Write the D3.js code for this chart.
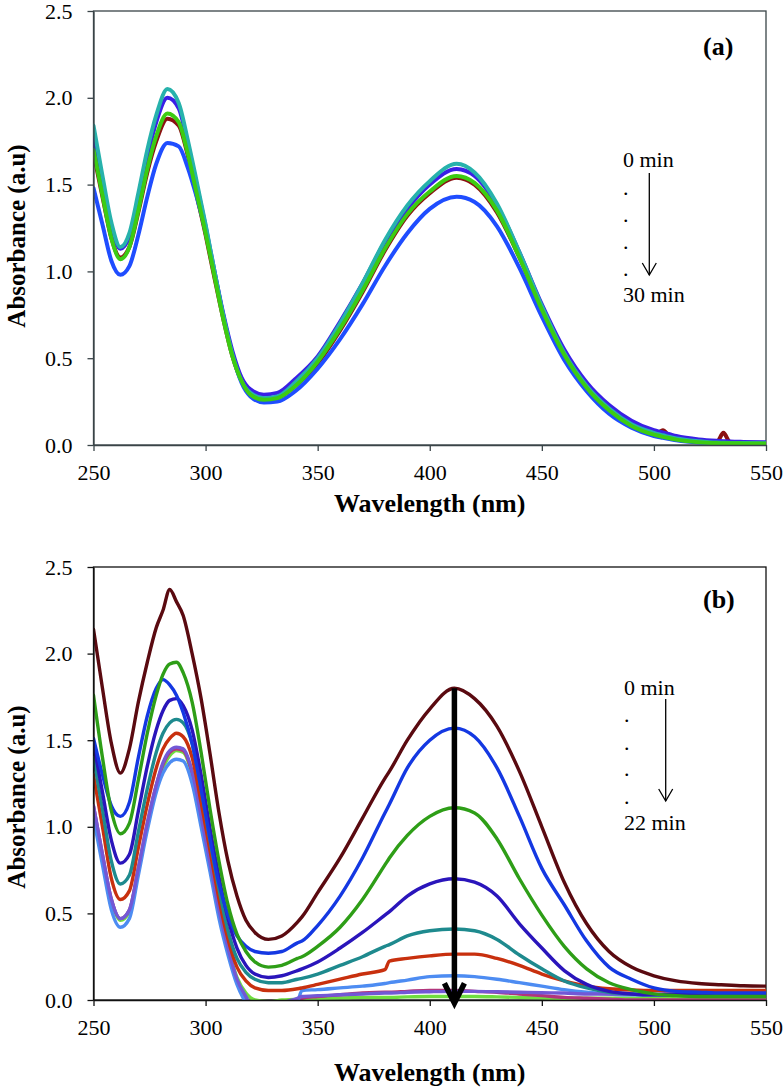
<!DOCTYPE html>
<html>
<head>
<meta charset="utf-8">
<script src="https://cdn.jsdelivr.net/npm/d3@7"></script>
<style>
html,body{margin:0;padding:0;background:#fff;}
svg{display:block;}
svg text{font-family:"Liberation Serif","Tinos","Times New Roman",Times,"DejaVu Serif","Noto Serif",serif !important;}
</style>
</head>
<body>
<svg id="chart" width="784" height="1090"></svg>
<script>
// ---------------- DATA ----------------
const xTicks = [250, 300, 350, 400, 450, 500, 550];
const yTicks = [0, 0.5, 1.0, 1.5, 2.0, 2.5];
const xTitle = "Wavelength (nm)";
const yTitle = "Absorbance (a.u)";

// Panel (a)
const wavelengthA = [250,254,258,262,266,270,274,278,283,288,292,296,300,304,308,312,316,320,326,332,340,350,360,370,380,390,400,412,420,430,440,450,460,470,480,490,500,502,504,507,510,520,528,531,534,540,550];
const a_maroon = [1.68,1.43,1.19,1.08,1.14,1.34,1.57,1.75,1.88,1.84,1.67,1.44,1.21,0.96,0.72,0.51,0.37,0.29,0.26,0.27,0.34,0.47,0.66,0.88,1.12,1.32,1.45,1.54,1.50,1.34,1.08,0.78,0.52,0.33,0.20,0.11,0.06,0.07,0.085,0.05,0.036,0.02,0.016,0.07,0.016,0.012,0.01];
const a_blue   = [1.48,1.27,1.06,0.98,1.03,1.21,1.43,1.62,1.74,1.72,1.60,1.43,1.23,0.99,0.74,0.52,0.36,0.28,0.245,0.25,0.31,0.44,0.61,0.81,1.03,1.22,1.36,1.43,1.40,1.26,1.02,0.74,0.49,0.31,0.18,0.10,0.052,0.046,0.041,0.034,0.027,0.014,0.011,0.01,0.01,0.01,0.01];
const a_purple = [1.76,1.49,1.25,1.13,1.20,1.42,1.66,1.86,2.00,1.94,1.74,1.50,1.26,1.00,0.75,0.54,0.39,0.32,0.29,0.30,0.38,0.51,0.71,0.93,1.17,1.36,1.50,1.59,1.55,1.38,1.11,0.81,0.55,0.36,0.23,0.14,0.085,0.078,0.072,0.062,0.052,0.032,0.024,0.022,0.02,0.018,0.016];
const a_teal   = [1.84,1.55,1.28,1.14,1.22,1.45,1.70,1.90,2.05,1.97,1.76,1.52,1.27,1.00,0.74,0.52,0.37,0.30,0.27,0.28,0.36,0.50,0.70,0.93,1.18,1.38,1.52,1.62,1.57,1.39,1.11,0.80,0.53,0.34,0.21,0.12,0.07,0.062,0.056,0.046,0.038,0.022,0.014,0.013,0.012,0.011,0.01];
const a_green  = [1.70,1.44,1.19,1.07,1.14,1.35,1.59,1.78,1.91,1.86,1.68,1.45,1.22,0.97,0.72,0.51,0.37,0.29,0.26,0.27,0.34,0.48,0.67,0.89,1.13,1.33,1.46,1.55,1.51,1.35,1.08,0.78,0.52,0.33,0.20,0.11,0.06,0.053,0.047,0.039,0.031,0.016,0.011,0.01,0.01,0.009,0.008];

// Panel (b)
const wavelengthB = [250,254,258,262,266,270,274,278,281,284,287,290,294,298,302,306,310,314,318,322,328,334,341,343,350,360,370,380,382,390,400,411,420,430,440,450,460,470,480,490,500,510,520,530,540,550];
const b_maroon  = [2.14,1.80,1.48,1.31,1.45,1.72,1.95,2.15,2.25,2.37,2.30,2.22,2.00,1.74,1.42,1.08,0.80,0.60,0.46,0.39,0.35,0.37,0.45,0.48,0.62,0.82,1.05,1.28,1.32,1.50,1.68,1.80,1.74,1.58,1.32,1.00,0.68,0.44,0.28,0.19,0.14,0.11,0.095,0.088,0.082,0.08];
const b_blue    = [1.51,1.30,1.12,1.06,1.14,1.40,1.64,1.80,1.85,1.82,1.76,1.66,1.48,1.22,0.93,0.67,0.49,0.37,0.31,0.28,0.27,0.28,0.33,0.34,0.43,0.60,0.82,1.08,1.13,1.34,1.50,1.57,1.52,1.34,1.06,0.76,0.55,0.34,0.19,0.12,0.07,0.05,0.045,0.04,0.04,0.04];
const b_green   = [1.76,1.40,1.09,0.96,1.02,1.27,1.54,1.76,1.88,1.94,1.95,1.89,1.72,1.43,1.10,0.80,0.55,0.38,0.28,0.22,0.19,0.20,0.24,0.25,0.31,0.42,0.58,0.78,0.82,0.95,1.06,1.11,1.08,0.93,0.70,0.49,0.31,0.18,0.10,0.06,0.035,0.025,0.02,0.02,0.02,0.02];
const b_indigo  = [1.48,1.20,0.92,0.79,0.84,1.09,1.35,1.56,1.67,1.73,1.74,1.70,1.56,1.30,0.99,0.71,0.47,0.30,0.20,0.15,0.13,0.14,0.17,0.18,0.22,0.30,0.39,0.49,0.51,0.60,0.67,0.70,0.68,0.60,0.44,0.30,0.17,0.09,0.05,0.035,0.03,0.03,0.03,0.03,0.03,0.03];
const b_teal    = [1.40,1.10,0.80,0.67,0.72,0.97,1.22,1.43,1.54,1.60,1.62,1.60,1.48,1.22,0.92,0.64,0.40,0.24,0.16,0.12,0.10,0.10,0.12,0.125,0.15,0.20,0.25,0.31,0.32,0.37,0.40,0.41,0.40,0.35,0.26,0.18,0.11,0.07,0.045,0.035,0.03,0.03,0.03,0.03,0.03,0.03];
const b_red     = [1.30,1.00,0.70,0.58,0.63,0.88,1.13,1.34,1.45,1.51,1.54,1.52,1.40,1.14,0.86,0.58,0.35,0.19,0.11,0.07,0.055,0.055,0.065,0.07,0.09,0.12,0.15,0.175,0.225,0.24,0.255,0.265,0.265,0.24,0.20,0.15,0.11,0.08,0.065,0.058,0.055,0.055,0.055,0.055,0.055,0.055];
const b_magenta = [1.12,0.84,0.58,0.47,0.52,0.76,1.02,1.24,1.36,1.43,1.45,1.44,1.31,1.05,0.78,0.51,0.29,0.11,0.01,-0.07,-0.08,-0.04,0.0,0.01,0.02,0.03,0.04,0.045,0.045,0.05,0.055,0.055,0.05,0.045,0.035,0.025,0.015,0.01,0.005,0.0,0.0,0.0,0.0,0.0,0.0,0.0];
const b_lgreen  = [1.10,0.82,0.57,0.46,0.51,0.75,1.00,1.22,1.34,1.41,1.44,1.43,1.30,1.05,0.78,0.52,0.30,0.13,0.04,0.0,-0.01,0.0,0.005,0.008,0.01,0.012,0.015,0.015,0.015,0.018,0.02,0.02,0.02,0.018,0.015,0.012,0.01,0.01,0.01,0.01,0.01,0.012,0.01,0.015,0.01,0.01];
const b_purple  = [1.12,0.84,0.58,0.47,0.52,0.76,1.02,1.24,1.37,1.44,1.46,1.45,1.32,1.06,0.79,0.52,0.30,0.12,0.02,-0.06,-0.06,-0.02,0.01,0.02,0.025,0.03,0.035,0.04,0.04,0.045,0.048,0.05,0.05,0.048,0.045,0.042,0.04,0.035,0.035,0.033,0.033,0.04,0.035,0.04,0.035,0.035];
const b_lblue   = [1.05,0.78,0.52,0.42,0.47,0.72,0.98,1.20,1.31,1.37,1.39,1.38,1.25,1.00,0.74,0.47,0.26,0.09,-0.02,-0.12,-0.15,-0.08,-0.01,0.055,0.06,0.07,0.08,0.095,0.10,0.115,0.135,0.14,0.135,0.12,0.10,0.08,0.06,0.045,0.035,0.03,0.03,0.03,0.03,0.03,0.03,0.03];

// Annotation values
const labelsA = {first: "0 min", last: "30 min", tag: "(a)"};
const labelsB = {first: "0 min", last: "22 min", tag: "(b)"};
const bigArrow = {wavelength: 411, from: 1.80, to: -0.03};

// ---------------- STYLE / LAYOUT ----------------
const X0 = 93.5, X1 = 766;
const svg = d3.select("#chart");

const panels = [
  {
    id: "a", top: 11, bottom: 445, wl: wavelengthA, lineWidth: 4, axisColor: "#3a4448",
    series: [
      {v: a_maroon, c: "#8b1111"},
      {v: a_blue,   c: "#1f4dff"},
      {v: a_purple, c: "#3a1fe6"},
      {v: a_teal,   c: "#27b2ac"},
      {v: a_green,  c: "#3ccc12"}
    ],
    labels: labelsA,
    tagPos: [703, 55],
    note: {x: 623, first: 167, dots: [192.7, 220, 247, 274], last: 302, ax: 649.3, ay0: 173, ay1: 275},
    xTitleY: 512, yTitleY: 236
  },
  {
    id: "b", top: 567, bottom: 1000, wl: wavelengthB, lineWidth: 3.4, axisColor: "#111",
    series: [
      {v: b_lgreen,  c: "#6fdd40"},
      {v: b_magenta, c: "#b2357c"},
      {v: b_lblue,   c: "#4d8cf2"},
      {v: b_purple,  c: "#7258d6"},
      {v: b_red,     c: "#c8300e"},
      {v: b_teal,    c: "#1e8a8e"},
      {v: b_indigo,  c: "#2a15bb"},
      {v: b_blue,    c: "#1438e2"},
      {v: b_green,   c: "#2e9e17"},
      {v: b_maroon,  c: "#5a0a10"}
    ],
    labels: labelsB,
    tagPos: [703, 608],
    note: {x: 624, first: 695, dots: [719.5, 747.6, 774, 801.6], last: 830, ax: 665.7, ay0: 699, ay1: 801},
    xTitleY: 1081, yTitleY: 797,
    arrow: bigArrow
  }
];

const defs = svg.append("defs");

panels.forEach(p => {
  const x = d3.scaleLinear().domain([250, 550]).range([X0, X1]);
  const y = d3.scaleLinear().domain([0, 2.5]).range([p.bottom, p.top]);
  const g = svg.append("g");

  defs.append("clipPath").attr("id", "clip-" + p.id)
    .append("rect").attr("x", X0).attr("y", p.top)
    .attr("width", X1 - X0).attr("height", p.bottom - p.top + 1);

  // frame
  g.append("rect").attr("x", X0).attr("y", p.top)
    .attr("width", X1 - X0).attr("height", p.bottom - p.top)
    .attr("fill", "none").attr("stroke", p.axisColor).attr("stroke-width", 1.3);

  // lines
  const line = d3.line()
    .x((d, i) => x(p.wl[i]))
    .y(d => y(d))
    .curve(d3.curveMonotoneX);
  const lg = g.append("g").attr("clip-path", "url(#clip-" + p.id + ")");
  p.series.forEach(s => {
    lg.append("path").datum(s.v)
      .attr("d", line)
      .attr("fill", "none")
      .attr("stroke", s.c)
      .attr("stroke-width", p.lineWidth)
      .attr("stroke-linejoin", "round")
      .attr("stroke-linecap", "round");
  });

  // axes
  const xa = g.append("g").attr("transform", `translate(0,${p.bottom})`)
    .call(d3.axisBottom(x).tickValues(xTicks).tickFormat(d3.format("d")).tickSize(6).tickSizeOuter(0).tickPadding(13));
  const ya = g.append("g").attr("transform", `translate(${X0},0)`)
    .call(d3.axisLeft(y).tickValues(yTicks).tickFormat(d3.format(".1f")).tickSize(6).tickSizeOuter(0).tickPadding(15));
  [xa, ya].forEach(a => {
    a.attr("font-family", null);
    a.selectAll("path.domain").attr("stroke", p.axisColor).attr("stroke-width", 1.3);
    a.selectAll(".tick line").attr("stroke", p.axisColor).attr("stroke-width", 1.3);
    a.selectAll("text").attr("font-size", 22).attr("fill", "#000");
  });

  // titles
  g.append("text").attr("x", (X0 + X1) / 2).attr("y", p.xTitleY)
    .attr("text-anchor", "middle")
    .attr("font-size", 26).attr("font-weight", "bold").text(xTitle);
  g.append("text").attr("transform", `translate(25,${p.yTitleY}) rotate(-90)`)
    .attr("text-anchor", "middle")
    .attr("font-size", 25).attr("font-weight", "bold").text(yTitle);

  // panel tag
  g.append("text").attr("x", p.tagPos[0]).attr("y", p.tagPos[1])
    .attr("font-size", 26).attr("font-weight", "bold")
    .text(p.labels.tag);

  // time annotation
  const n = p.note;
  g.append("text").attr("x", n.x).attr("y", n.first)
    .attr("font-size", 22).text(p.labels.first);
  n.dots.forEach(dy => {
    g.append("text").attr("x", n.x).attr("y", dy + 2)
      .attr("font-size", 22).text(".");
  });
  g.append("text").attr("x", n.x).attr("y", n.last)
    .attr("font-size", 22).text(p.labels.last);
  g.append("line").attr("x1", n.ax).attr("x2", n.ax).attr("y1", n.ay0).attr("y2", n.ay1)
    .attr("stroke", "#000").attr("stroke-width", 1.3);
  g.append("polyline")
    .attr("points", `${n.ax - 7},${n.ay1 - 12} ${n.ax},${n.ay1} ${n.ax + 7},${n.ay1 - 12}`)
    .attr("fill", "none").attr("stroke", "#000").attr("stroke-width", 1.3);

  // big arrow
  if (p.arrow) {
    const ax = x(p.arrow.wavelength);
    const yTop = y(p.arrow.from), yTip = y(p.arrow.to);
    g.append("line").attr("x1", ax).attr("x2", ax).attr("y1", yTop).attr("y2", yTip - 3)
      .attr("stroke", "#000").attr("stroke-width", 5.5);
    g.append("polyline")
      .attr("points", `${ax - 10},${yTip - 22} ${ax},${yTip - 2} ${ax + 10},${yTip - 22}`)
      .attr("fill", "none").attr("stroke", "#000").attr("stroke-width", 5.5)
      .attr("stroke-linejoin", "miter").attr("stroke-miterlimit", 10);
  }
});
</script>
</body>
</html>
